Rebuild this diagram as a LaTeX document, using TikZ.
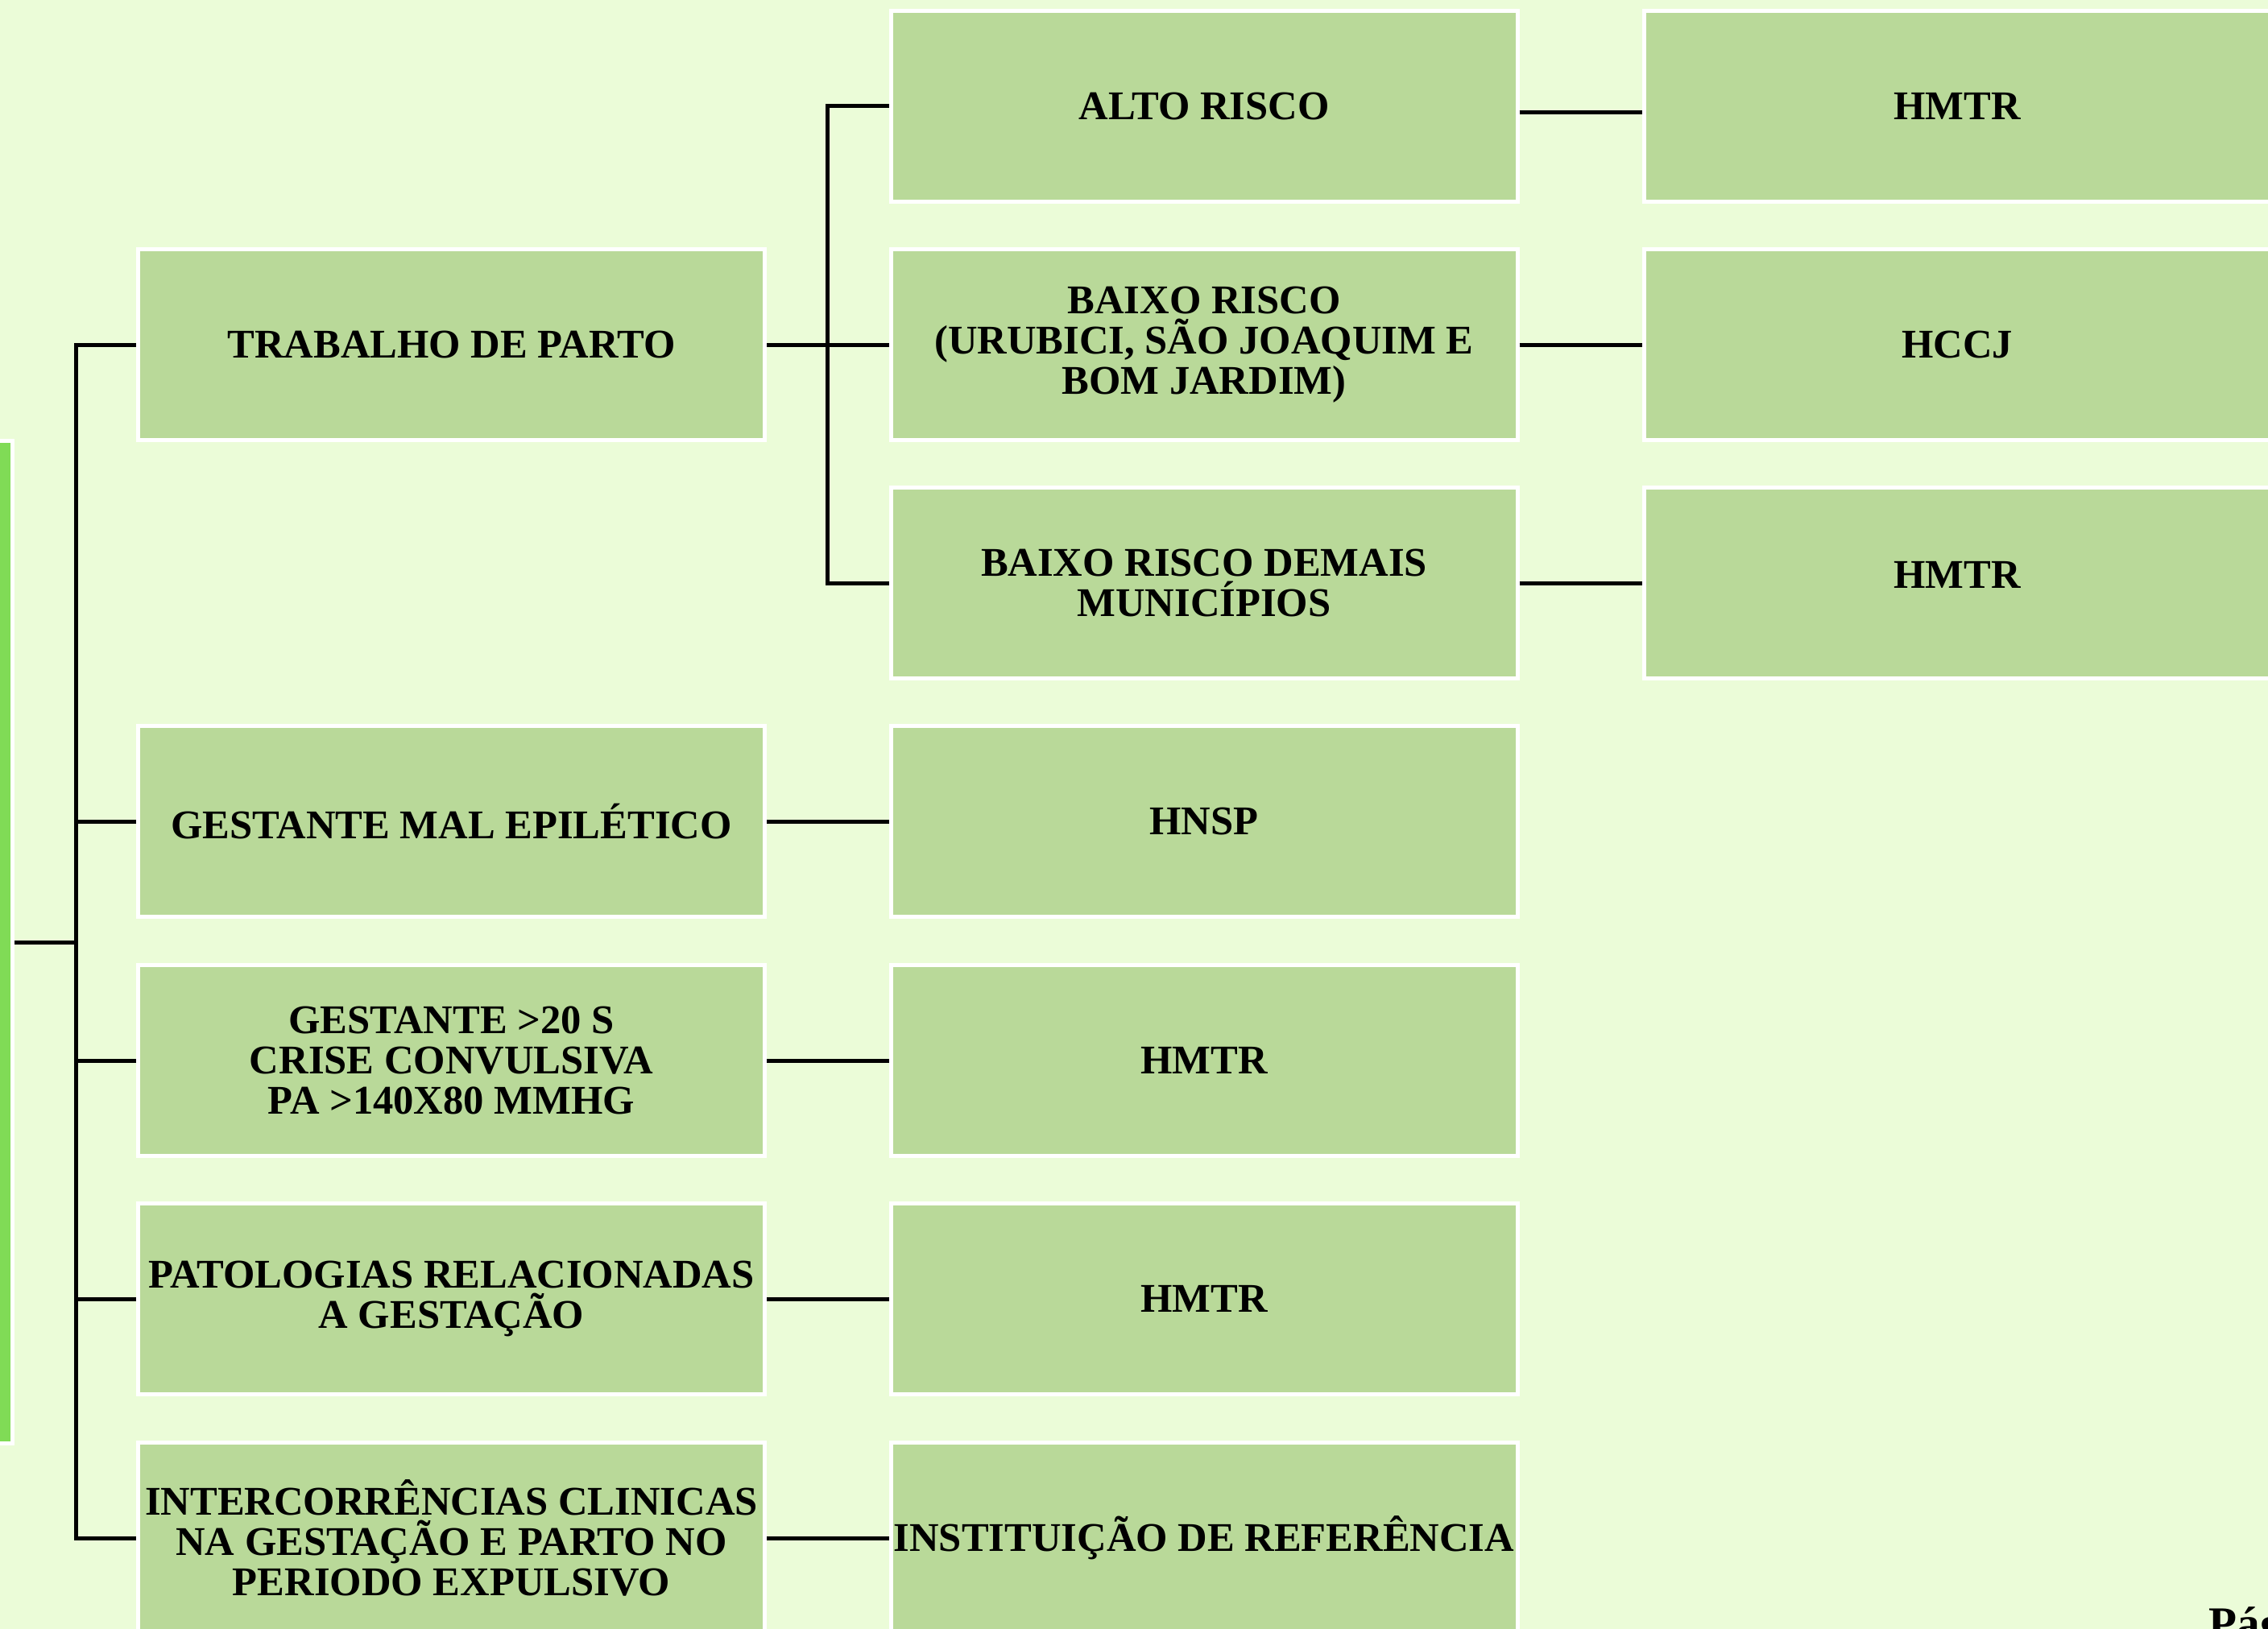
\documentclass[tikz,border=0pt]{standalone}
\usepackage{fontspec}
\setmainfont{Liberation Serif}
\usepackage{tikz}
\usetikzlibrary{positioning,calc}
\definecolor{fundo}{HTML}{EBFCD8}
\definecolor{verdecaixa}{HTML}{B9D999}
\definecolor{verdebarra}{HTML}{80DB56}
\tikzstyle{caixa} = [rectangle, minimum width=7.78cm, minimum height=2.37cm, inner sep=0pt, text centered, align=center, fill=verdecaixa, draw=white, line width=0.05cm, font=\bfseries\fontsize{14.4}{14.2}\selectfont]
\tikzstyle{linha} = [line width=0.05cm, black]

\begin{document}
\begin{tikzpicture}
						\clip (0,0) rectangle (28.16,-20.23);
						\fill[fundo] (0,0) rectangle (28.16,-20.23);
						\node (barra) at (0.025,-11.70) [rectangle, fill=verdebarra, draw=white, line width=0.05cm, minimum width=0.26cm, minimum height=12.45cm] {};
						\coordinate (tronco) at (0.94,-11.70);
						\coordinate (chave) at (10.27,-4.28);
						\node (tp) at (5.605,-4.28) [caixa] {TRABALHO DE PARTO};
						\node (me) at (5.605,-10.20) [caixa] {GESTANTE MAL EPILÉTICO};
						\node (cc) at (5.605,-13.17) [caixa] {GESTANTE >20 S\\CRISE CONVULSIVA\\PA >140X80 MMHG};
						\node (pg) at (5.605,-16.13) [caixa] {PATOLOGIAS RELACIONADAS\\A GESTAÇÃO};
						\node (ic) at (5.605,-19.10) [caixa] {INTERCORRÊNCIAS CLINICAS\\NA GESTAÇÃO E PARTO NO\\PERIODO EXPULSIVO};
						\node (ar) at (14.95,-1.315) [caixa] {ALTO RISCO};
						\node (br) at (14.95,-4.28) [caixa] {BAIXO RISCO\\(URUBICI, SÃO JOAQUIM E\\BOM JARDIM)};
						\node (bd) at (14.95,-7.24) [caixa] {BAIXO RISCO DEMAIS\\MUNICÍPIOS};
						\node (hnsp) at (14.95,-10.20) [caixa] {HNSP};
						\node (hmtr1) at (14.95,-13.17) [caixa] {HMTR};
						\node (hmtr2) at (14.95,-16.13) [caixa] {HMTR};
						\node (inst) at (14.95,-19.10) [caixa] {INSTITUIÇÃO DE REFERÊNCIA};
						\node (hmtr3) at (24.30,-1.315) [caixa] {HMTR};
						\node (hccj) at (24.30,-4.28) [caixa] {HCCJ};
						\node (hmtr4) at (24.30,-7.24) [caixa] {\raisebox{0.21cm}{HMTR}};
						\node (pag) at (27.42,-20.35) [anchor=base west, inner sep=0pt, font=\bfseries\fontsize{16.3}{18}\selectfont] {Página};
						% tronco principal
						\draw[linha] (barra.east) -- (tronco);
						\draw[linha] (tronco) |- (tp.west);
						\draw[linha] (tronco) |- (me.west);
						\draw[linha] (tronco) |- (cc.west);
						\draw[linha] (tronco) |- (pg.west);
						\draw[linha] (tronco) |- (ic.west);
						% trabalho de parto
						\draw[linha] (tp.east) -- (br.west);
						\draw[linha] (chave) |- (ar.west);
						\draw[linha] (chave) |- (bd.west);
						\draw[linha] ([yshift=-0.08cm]ar.east) -- ([yshift=-0.08cm]hmtr3.west);
						\draw[linha] (br.east) -- (hccj.west);
						\draw[linha] (bd.east) -- (hmtr4.west);
						\draw[linha] (me.east) -- (hnsp.west);
						\draw[linha] (cc.east) -- (hmtr1.west);
						\draw[linha] (pg.east) -- (hmtr2.west);
						\draw[linha] (ic.east) -- (inst.west);
					\end{tikzpicture}
\end{document}
